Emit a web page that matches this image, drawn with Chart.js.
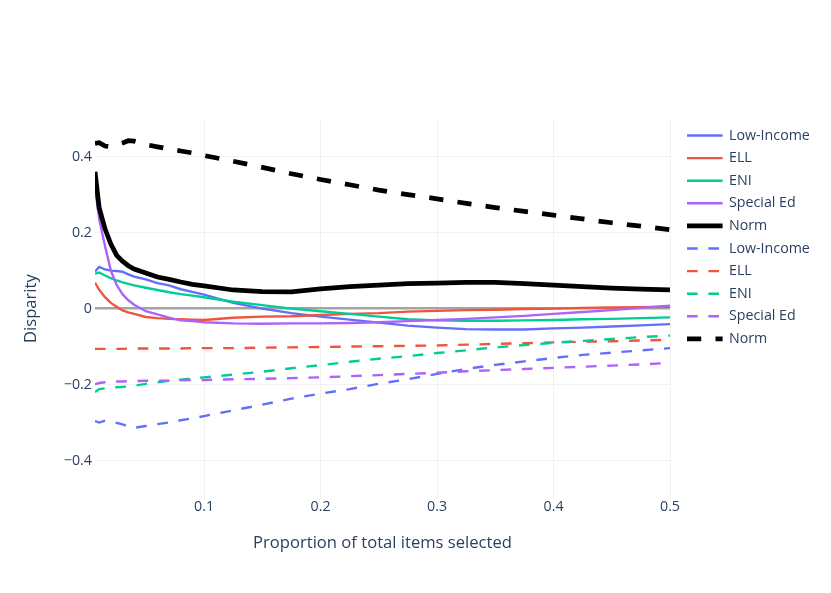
<!DOCTYPE html>
<html>
<head>
<meta charset="utf-8">
<script src="https://cdn.jsdelivr.net/npm/chart.js@4.4.1/dist/chart.umd.min.js"></script>
<style>
  html, body { margin: 0; padding: 0; background: #fff; }
  #wrap { width: 831px; height: 593px; }
</style>
</head>
<body>
<div id="wrap"><canvas id="chart" width="831" height="593"></canvas></div>
<script>
// proportion of total items selected
const xs = [0.0064, 0.01, 0.015, 0.02, 0.025, 0.03, 0.035, 0.04, 0.05, 0.06, 0.07, 0.08, 0.09, 0.1,
    0.125, 0.15, 0.175, 0.2, 0.225, 0.25, 0.275, 0.3, 0.325, 0.35, 0.375, 0.4, 0.425, 0.45, 0.475, 0.5]

// solid lines
const lowIncome = [0.098, 0.11, 0.103, 0.1, 0.099, 0.097, 0.09, 0.084, 0.077, 0.067, 0.061, 0.051, 0.044, 0.037,
    0.015, 0.0, -0.012, -0.021, -0.029, -0.037, -0.045, -0.05, -0.054, -0.055, -0.055, -0.052, -0.05, -0.047, -0.044, -0.041]
const ell = [0.068, 0.05, 0.03, 0.015, 0.005, -0.005, -0.01, -0.014, -0.022, -0.025, -0.027, -0.028, -0.029, -0.03,
    -0.024, -0.021, -0.02, -0.017, -0.014, -0.012, -0.008, -0.006, -0.004, -0.003, -0.001, 0.0, 0.002, 0.003, 0.004, 0.005]
const eni = [0.092, 0.095, 0.087, 0.08, 0.074, 0.069, 0.065, 0.061, 0.055, 0.049, 0.043, 0.038, 0.034, 0.03,
    0.018, 0.009, 0.0, -0.007, -0.014, -0.021, -0.028, -0.031, -0.032, -0.032, -0.031, -0.03, -0.028, -0.027, -0.025, -0.023]
const specialEd = [0.32, 0.235, 0.165, 0.1, 0.062, 0.038, 0.022, 0.01, -0.007, -0.015, -0.024, -0.031, -0.033, -0.036,
    -0.039, -0.04, -0.039, -0.039, -0.038, -0.036, -0.033, -0.03, -0.027, -0.023, -0.019, -0.014, -0.009, -0.004, 0.002, 0.008]
const norm = [0.36, 0.265, 0.21, 0.17, 0.14, 0.125, 0.113, 0.104, 0.094, 0.083, 0.077, 0.07, 0.064, 0.06,
    0.049, 0.045, 0.044, 0.052, 0.058, 0.062, 0.066, 0.067, 0.069, 0.069, 0.066, 0.062, 0.058, 0.054, 0.051, 0.049]

// dashed lines
const lowIncomeDash = [-0.296, -0.3, -0.295, -0.297, -0.301, -0.305, -0.31, -0.314, -0.309, -0.304, -0.3, -0.294, -0.289, -0.283,
    -0.268, -0.253, -0.237, -0.224, -0.212, -0.198, -0.186, -0.172, -0.159, -0.148, -0.139, -0.13, -0.122, -0.116, -0.11, -0.104]
const ellDash = [-0.106, -0.106, -0.106, -0.106, -0.106, -0.106, -0.105, -0.105, -0.105, -0.105, -0.105, -0.105, -0.104, -0.104,
    -0.104, -0.103, -0.102, -0.101, -0.1, -0.099, -0.098, -0.097, -0.095, -0.093, -0.091, -0.089, -0.087, -0.086, -0.084, -0.082]
const eniDash = [-0.22, -0.212, -0.21, -0.208, -0.207, -0.206, -0.205, -0.203, -0.198, -0.194, -0.19, -0.187, -0.184, -0.181,
    -0.174, -0.166, -0.157, -0.149, -0.14, -0.132, -0.125, -0.117, -0.11, -0.102, -0.096, -0.09, -0.085, -0.08, -0.075, -0.071]
const specialEdDash = [-0.199, -0.196, -0.194, -0.193, -0.192, -0.192, -0.191, -0.191, -0.19, -0.19, -0.19, -0.189, -0.188, -0.188,
    -0.186, -0.185, -0.183, -0.181, -0.178, -0.175, -0.172, -0.169, -0.165, -0.162, -0.159, -0.156, -0.153, -0.15, -0.147, -0.143]
const normDash = [0.435, 0.437, 0.428, 0.426, 0.431, 0.436, 0.442, 0.441, 0.432, 0.426, 0.42, 0.415, 0.41, 0.403,
    0.388, 0.372, 0.355, 0.34, 0.326, 0.312, 0.3, 0.289, 0.277, 0.266, 0.256, 0.246, 0.236, 0.226, 0.217, 0.208]

const xTicks = [0.1, 0.2, 0.3, 0.4, 0.5]
const yTicks = [-0.4, -0.2, 0, 0.2, 0.4]

const FONT = "'Open Sans', verdana, arial, sans-serif"
const TEXT = '#2a3f5f'
const S = 1.187   // figure scale

const series = [
    { label: 'Low-Income', data: lowIncome, color: '#636efa', width: 2, dash: false },
    { label: 'ELL', data: ell, color: '#EF553B', width: 2, dash: false },
    { label: 'ENI', data: eni, color: '#00cc96', width: 2, dash: false },
    { label: 'Special Ed', data: specialEd, color: '#ab63fa', width: 2, dash: false },
    { label: 'Norm', data: norm, color: '#000000', width: 4, dash: false },
    { label: 'Low-Income', data: lowIncomeDash, color: '#636efa', width: 2, dash: true },
    { label: 'ELL', data: ellDash, color: '#EF553B', width: 2, dash: true },
    { label: 'ENI', data: eniDash, color: '#00cc96', width: 2, dash: true },
    { label: 'Special Ed', data: specialEdDash, color: '#ab63fa', width: 2, dash: true },
    { label: 'Norm', data: normDash, color: '#000000', width: 4, dash: true }
]

const dashFor = (s) => {
    if(!s.dash) return []
    const d = 3 * Math.max(s.width, 3) * S
    return [d, d]
}

const datasets = series.map((s, i) => ({
    label: s.label,
    data: s.data.map((v, j) => ({ x: xs[j], y: v })),
    borderColor: s.color,
    backgroundColor: s.color,
    borderWidth: s.width * S,
    borderDash: dashFor(s),
    pointRadius: 0,
    tension: 0,
    fill: false,
    order: series.length - i
}))

// legend drawn like plotly's, to the right of the plot
const plotlyLegend = {
    id: 'plotlyLegend',
    afterDraw(chart) {
        const ctx = chart.ctx
        const x0 = 687, y0 = 135.5, step = 22.6
        ctx.save()
        chart.data.datasets.forEach((ds, i) => {
            const y = y0 + i * step
            ctx.beginPath()
            ctx.strokeStyle = ds.borderColor
            ctx.lineWidth = ds.borderWidth
            ctx.setLineDash(ds.borderDash)
            ctx.moveTo(x0, y)
            ctx.lineTo(x0 + 35.6, y)
            ctx.stroke()
            ctx.setLineDash([])
            ctx.fillStyle = TEXT
            ctx.font = `${12 * S}px ${FONT}`
            ctx.textBaseline = 'middle'
            ctx.textAlign = 'left'
            ctx.fillText(ds.label, x0 + 42, y)
        })
        ctx.restore()
    }
}

const fmt = v => {
    if(v == 0) return '0'
    return (v < 0 ? '\u2212' : '') + Math.abs(v).toString()
}

new Chart(document.getElementById('chart'), {
    type: 'line',
    data: { datasets },
    options: {
        responsive: false,
        animation: false,
        layout: { padding: { top: 118.7, right: 161, bottom: 0, left: 0 } },
        plugins: {
            legend: { display: false },
            tooltip: { enabled: false }
        },
        scales: {
            x: {
                type: 'linear',
                min: 0.0064,
                max: 0.5,
                afterFit: s => { s.height = 593 - 498.5 },
                afterBuildTicks: s => { s.ticks = xTicks.map(v => ({ value: v })) },
                border: { display: false },
                grid: { color: '#f1f1f1', lineWidth: 1, drawTicks: false },
                ticks: {
                    padding: 0,
                    maxRotation: 0,
                    color: TEXT,
                    font: { family: FONT, size: 12 * S },
                    callback: v => fmt(v)
                },
                title: {
                    display: true,
                    text: 'Proportion of total items selected',
                    color: TEXT,
                    font: { family: FONT, size: 14 * S },
                    padding: { top: 0, bottom: 40 }
                }
            },
            y: {
                type: 'linear',
                min: -0.5,
                max: 0.5,
                afterFit: s => { s.width = 95 },
                afterBuildTicks: s => { s.ticks = yTicks.map(v => ({ value: v })) },
                border: { display: false },
                grid: {
                    color: c => c.tick && c.tick.value === 0 ? '#a4a4a4' : '#f1f1f1',
                    lineWidth: c => c.tick && c.tick.value === 0 ? 2.6 : 1,
                    drawTicks: false
                },
                ticks: {
                    padding: 3,
                    color: TEXT,
                    font: { family: FONT, size: 12 * S },
                    callback: v => fmt(v)
                },
                title: {
                    display: true,
                    text: 'Disparity',
                    color: TEXT,
                    font: { family: FONT, size: 14 * S },
                    padding: { top: 21, bottom: 0 }
                }
            }
        }
    },
    plugins: [plotlyLegend]
})
</script>
</body>
</html>
